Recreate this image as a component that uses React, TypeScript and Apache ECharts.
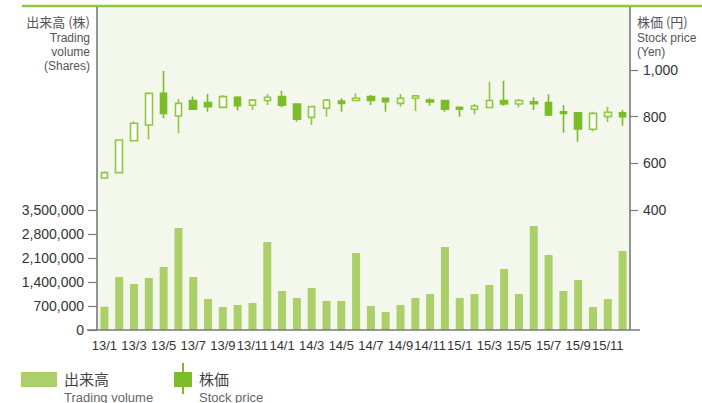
import React, { useEffect, useRef } from "react";
import * as echarts from "echarts";

const categories = [
  "13/1","13/2","13/3","13/4","13/5","13/6","13/7","13/8","13/9","13/10","13/11","13/12",
  "14/1","14/2","14/3","14/4","14/5","14/6","14/7","14/8","14/9","14/10","14/11","14/12",
  "15/1","15/2","15/3","15/4","15/5","15/6","15/7","15/8","15/9","15/10","15/11","15/12",
];

const volume = [
  680000, 1546000, 1342000, 1517000, 1837000, 2975000, 1546000, 904000, 671000, 729000, 787000, 2567000,
  1137000, 933000, 1225000, 846000, 846000, 2246000, 700000, 525000, 729000, 933000, 1050000, 2421000,
  933000, 1050000, 1312000, 1779000, 1050000, 3033000, 2187000, 1137000, 1458000, 671000, 904000, 2304000,
];

const priceOpen = [
  537, 560, 697, 764, 900, 803, 869, 860, 840, 883, 849, 869,
  886, 854, 797, 836, 867, 869, 886, 879, 857, 879, 871, 869,
  840, 832, 839, 869, 854, 864, 860, 821, 817, 746, 800, 817,
];
const priceClose = [
  560, 700, 772, 900, 814, 857, 832, 843, 886, 847, 871, 883,
  849, 789, 843, 871, 857, 879, 869, 864, 879, 889, 863, 832,
  832, 846, 869, 854, 869, 856, 807, 814, 747, 814, 819, 800,
];
const priceLow = [
  535, 557, 695, 703, 793, 729, 830, 821, 838, 826, 829, 850,
  840, 779, 764, 800, 821, 869, 850, 821, 843, 824, 847, 821,
  800, 810, 836, 847, 839, 829, 803, 731, 693, 736, 777, 761,
];
const priceHigh = [
  566, 702, 780, 905, 996, 875, 886, 897, 893, 888, 876, 897,
  911, 858, 846, 876, 879, 900, 893, 880, 897, 893, 879, 872,
  841, 854, 950, 954, 876, 883, 896, 850, 818, 821, 843, 829,
];

const volumeTicks = [0, 700000, 1400000, 2100000, 2800000, 3500000];
const priceTicks = [400, 600, 800, 1000];

const BAR_COLOR = "#abd06a";
const CANDLE_DARK = "#7bbc2a";
const CANDLE_LIGHT = "#8fc73f";
const BG = "#f4f7ec";
const AXIS = "#7a7a7a";
const FONT = "'Liberation Sans', Arial, sans-serif";
const CJK = "'Noto Sans CJK JP', 'Noto Sans', sans-serif";

const fmt = (v: number) => v.toString().replace(/\B(?=(\d{3})+(?!\d))/g, ",");

export default function App() {
  const ref = useRef<HTMLDivElement>(null);
  useEffect(() => {
    if (!ref.current) return;
    const chart = echarts.init(ref.current, undefined, { renderer: "svg" });
    const candleData = categories.map((_, i) => [priceOpen[i], priceClose[i], priceLow[i], priceHigh[i]]);
    const L = 97, R = 630, TOP = 6, BOTTOM = 330;
    const t = (x: number, y: number, text: string, align: string, font: string, fill = "#555") => ({
      type: "text", z: 10, x, y, style: { text, align, verticalAlign: "middle", fill, font },
    });
    chart.setOption({
      animation: false,
      grid: [
        { left: L, top: 210, width: R - L, height: BOTTOM - 210 },
        { left: L, top: 70, width: R - L, height: 140 },
      ],
      xAxis: [
        {
          type: "category", gridIndex: 0, data: categories,
          axisLine: { show: false }, axisTick: { show: false },
          axisLabel: { interval: 1, showMinLabel: true, hideOverlap: false, color: "#333", fontSize: 13, fontFamily: FONT, margin: 9 },
        },
        {
          type: "category", gridIndex: 1, data: categories, show: false,
        },
      ],
      yAxis: [
        {
          type: "value", gridIndex: 0, min: 0, max: volumeTicks[volumeTicks.length - 1], interval: 700000,
          axisLine: { show: false },
          axisTick: { show: true, length: 9, lineStyle: { color: AXIS, width: 1.2 } },
          splitLine: { show: false },
          axisLabel: { color: "#333", fontSize: 14, fontFamily: FONT, margin: 13, formatter: (v: number) => fmt(v) },
        },
        {
          type: "value", gridIndex: 1, position: "right", min: priceTicks[0], max: priceTicks[priceTicks.length - 1], interval: 200,
          axisLine: { show: false },
          axisTick: { show: true, length: 8, lineStyle: { color: AXIS, width: 1.2 } },
          splitLine: { show: false },
          axisLabel: { color: "#333", fontSize: 14, fontFamily: FONT, margin: 13, formatter: (v: number) => fmt(v) },
        },
      ],
      series: [
        {
          type: "bar", xAxisIndex: 0, yAxisIndex: 0, data: volume, barWidth: 8,
          itemStyle: { color: BAR_COLOR }, z: 3,
        },
        {
          type: "candlestick", xAxisIndex: 1, yAxisIndex: 1, data: candleData, barWidth: 7, clip: false,
          itemStyle: { color: "#ffffff", color0: CANDLE_DARK, borderColor: CANDLE_LIGHT, borderColor0: CANDLE_DARK, borderWidth: 1.6 },
          z: 4,
        },
      ],
      graphic: [
        { type: "rect", z: -10, shape: { x: L, y: TOP, width: R - L, height: BOTTOM - TOP }, style: { fill: BG } },
        { type: "line", z: 10, shape: { x1: 22, y1: TOP, x2: 702, y2: TOP }, style: { stroke: CANDLE_LIGHT, lineWidth: 2.5 } },
        { type: "line", z: 10, shape: { x1: L, y1: TOP + 1, x2: L, y2: BOTTOM }, style: { stroke: AXIS, lineWidth: 1.6 } },
        { type: "line", z: 10, shape: { x1: R, y1: TOP + 1, x2: R, y2: BOTTOM }, style: { stroke: AXIS, lineWidth: 1.6 } },
        { type: "line", z: 10, shape: { x1: 87, y1: BOTTOM, x2: 640, y2: BOTTOM }, style: { stroke: AXIS, lineWidth: 1.6 } },
        t(90, 21, "出来高 (株)", "right", `13px ${CJK}`),
        t(90, 38, "Trading", "right", `12px ${FONT}`),
        t(90, 52, "volume", "right", `12px ${FONT}`),
        t(90, 66, "(Shares)", "right", `12px ${FONT}`),
        t(637, 21, "株価 (円)", "left", `13px ${CJK}`),
        t(637, 38, "Stock price", "left", `12px ${FONT}`),
        t(637, 52, "(Yen)", "left", `12px ${FONT}`),
        { type: "rect", z: 10, shape: { x: 21, y: 372, width: 36, height: 15 }, style: { fill: BAR_COLOR } },
        t(64, 378, "出来高", "left", `15px ${CJK}`, "#444"),
        t(64, 397, "Trading volume", "left", `13px ${FONT}`, "#666"),
        { type: "line", z: 10, shape: { x1: 183, y1: 363, x2: 183, y2: 394 }, style: { stroke: CANDLE_DARK, lineWidth: 2 } },
        { type: "rect", z: 11, shape: { x: 174, y: 372, width: 18, height: 15 }, style: { fill: CANDLE_DARK } },
        t(199, 378, "株価", "left", `15px ${CJK}`, "#444"),
        t(199, 397, "Stock price", "left", `13px ${FONT}`, "#666"),
      ],
    });
    return () => chart.dispose();
  }, []);
  return <div ref={ref} style={{ width: 702, height: 403, position: "absolute", left: 0, top: 0 }} />;
}
